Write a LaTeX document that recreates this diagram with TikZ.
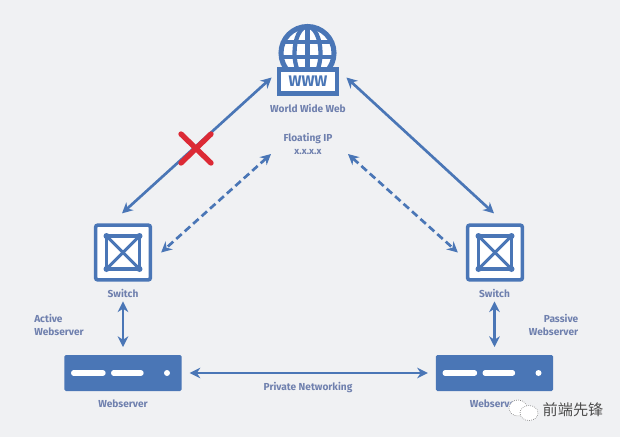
\documentclass[tikz,border=0pt]{standalone}
\usepackage{fontspec}
\setmainfont{Fira Sans}
\newfontfamily\cjk{Noto Sans CJK SC}
\usetikzlibrary{arrows.meta}
\definecolor{netblue}{HTML}{4A76B6}
\definecolor{labelblue}{HTML}{6F80AE}
\definecolor{paper}{HTML}{F0F1F3}
\definecolor{crossred}{HTML}{DC2A35}
\tikzstyle{link} = [netblue, line width=2pt, {Stealth[length=8pt,width=8pt]}-{Stealth[length=8pt,width=8pt]}]
\tikzstyle{dashlink} = [link, dash pattern=on 5.5pt off 3pt]
\tikzstyle{label} = [labelblue, font=\fontsize{7.6}{9}\selectfont\bfseries, inner sep=0pt, align=center]
\tikzstyle{switchbox} = [draw=netblue, line width=2.7pt, fill=white, rounded corners=1.5pt, minimum size=41pt, outer sep=1.35pt, inner sep=0pt]
\tikzstyle{serverbox} = [fill=netblue, rounded corners=1.2pt, minimum width=88pt, minimum height=27pt, outer sep=0pt, inner sep=0pt]
\tikzstyle{inner} = [netblue, line width=2.3pt]

\begin{document}
\begin{tikzpicture}[x=0.75pt, y=-0.75pt]
        % Bounding box
        \fill[paper] (0,0) rectangle (620,437);
        \useasboundingbox (0,0) rectangle (620,437);

        % Globe
        \draw[netblue, line width=3.8pt, fill=white] (307.5,53) circle (26.5);
        \draw[netblue, line width=3.2pt] (307.5,53) ellipse (13 and 26.5);
        \draw[netblue, line width=3.2pt] (307.5,26.5) -- (307.5,70);
        \draw[netblue, line width=3.2pt] (284,42) -- (331,42);
        \draw[netblue, line width=3.2pt] (281,57) -- (334,57);

        % Nodes
        \node[draw=netblue, line width=3.6pt, fill=white, minimum width=43.5pt, minimum height=17.5pt, outer sep=1.8pt, inner sep=0pt,
              text=netblue, font=\fontsize{11.5}{11.5}\selectfont\bfseries] (www) at (308,81.5) {WWW};
        \node[label] (wwwlabel) at (308,108) {World Wide Web};
        \node[label] (floating) at (308,139) {Floating IP};
        \node[label, font=\fontsize{7.2}{8}\selectfont\bfseries] (ip) at (308,152.5) {x.x.x.x};
        \node[switchbox] (swL) at (123,252.5) {};
        \node[switchbox] (swR) at (495,252.5) {};
        \node[label] (swLlabel) at (123,293) {Switch};
        \node[label] (swRlabel) at (494.5,293) {Switch};
        \node[serverbox] (srvL) at (123,373) {};
        \node[serverbox] (srvR) at (494.5,373) {};
        \node[label] (srvLlabel) at (123,403.5) {Webserver};
        \node[label] (srvRlabel) at (494.5,403.5) {Webserver};
        \node[label, align=left, anchor=west] (active) at (34,325) {Active\\[0.8pt]Webserver};
        \node[label, align=right, anchor=east] (passive) at (578.5,325) {Passive\\[0.8pt]Webserver};
        \node[label] (private) at (308,388) {Private Networking};
        \coordinate (ipL) at (271,154);
        \coordinate (ipR) at (348,154);

        % Switch and server details
        \foreach \sw in {swL,swR} {
            \draw[inner] ([shift={(-16.5,-16.5)}]\sw.center) rectangle ([shift={(16.5,16.5)}]\sw.center);
            \draw[inner] ([shift={(-16.5,-16.5)}]\sw.center) -- ([shift={(16.5,16.5)}]\sw.center);
            \draw[inner] ([shift={(-16.5,16.5)}]\sw.center) -- ([shift={(16.5,-16.5)}]\sw.center);
            \foreach \dx/\dy in {-16.5/-16.5, 16.5/-16.5, -16.5/16.5, 16.5/16.5}
                \fill[netblue] ([shift={(\dx,\dy)}]\sw.center) circle (3);
        }
        \foreach \srv in {srvL,srvR} {
            \draw[white, line width=4pt, line cap=round] ([xshift=-37pt]\srv.center) -- ([xshift=-15pt]\srv.center);
            \draw[white, line width=4pt, line cap=round] ([xshift=-7pt]\srv.center) -- ([xshift=13.5pt]\srv.center);
            \fill[white] ([xshift=33pt]\srv.center) circle (3);
        }

        % Edges
        \draw[link] ([xshift=-3.75pt,yshift=3pt]www.west) -- ([xshift=-0.75pt,yshift=7.5pt]swL.north);
        \draw[link] ([xshift=5.25pt,yshift=3pt]www.east) -- ([xshift=-0.75pt,yshift=7.5pt]swR.north);
        \draw[dashlink] (ipL) -- ([xshift=6.75pt]swL.east);
        \draw[dashlink] (ipR) -- ([xshift=-6pt]swR.west);
        \draw[link, shorten <=3pt, shorten >=6pt] (swLlabel.south) -- (srvL.north);
        \draw[link, shorten <=3pt, shorten >=6pt] (swRlabel.south) -- (srvR.north);
        \draw[link, shorten <=6pt, shorten >=6pt] (srvL.east) -- (srvR.west);

        % Red cross
        \draw[crossred, line width=4pt, line cap=round] (181,134) -- (211,163);
        \draw[crossred, line width=4pt, line cap=round] (211,134) -- (181,163);

        % Watermark
        \draw[gray, line width=0.5pt, densely dotted, fill=white] (518,408) ellipse (9 and 8);
        \draw[gray, line width=0.5pt, densely dotted, fill=white] (529,413) ellipse (9 and 7.5);
        \node[text=white, font=\cjk\fontsize{11.4}{12}\selectfont, inner sep=0pt] (markshadow) at (573.5,410) {前端先锋};
        \node[text=black!70, font=\cjk\fontsize{11.4}{12}\selectfont, inner sep=0pt] (mark) at (573,409.5) {前端先锋};
\end{tikzpicture}
\end{document}
